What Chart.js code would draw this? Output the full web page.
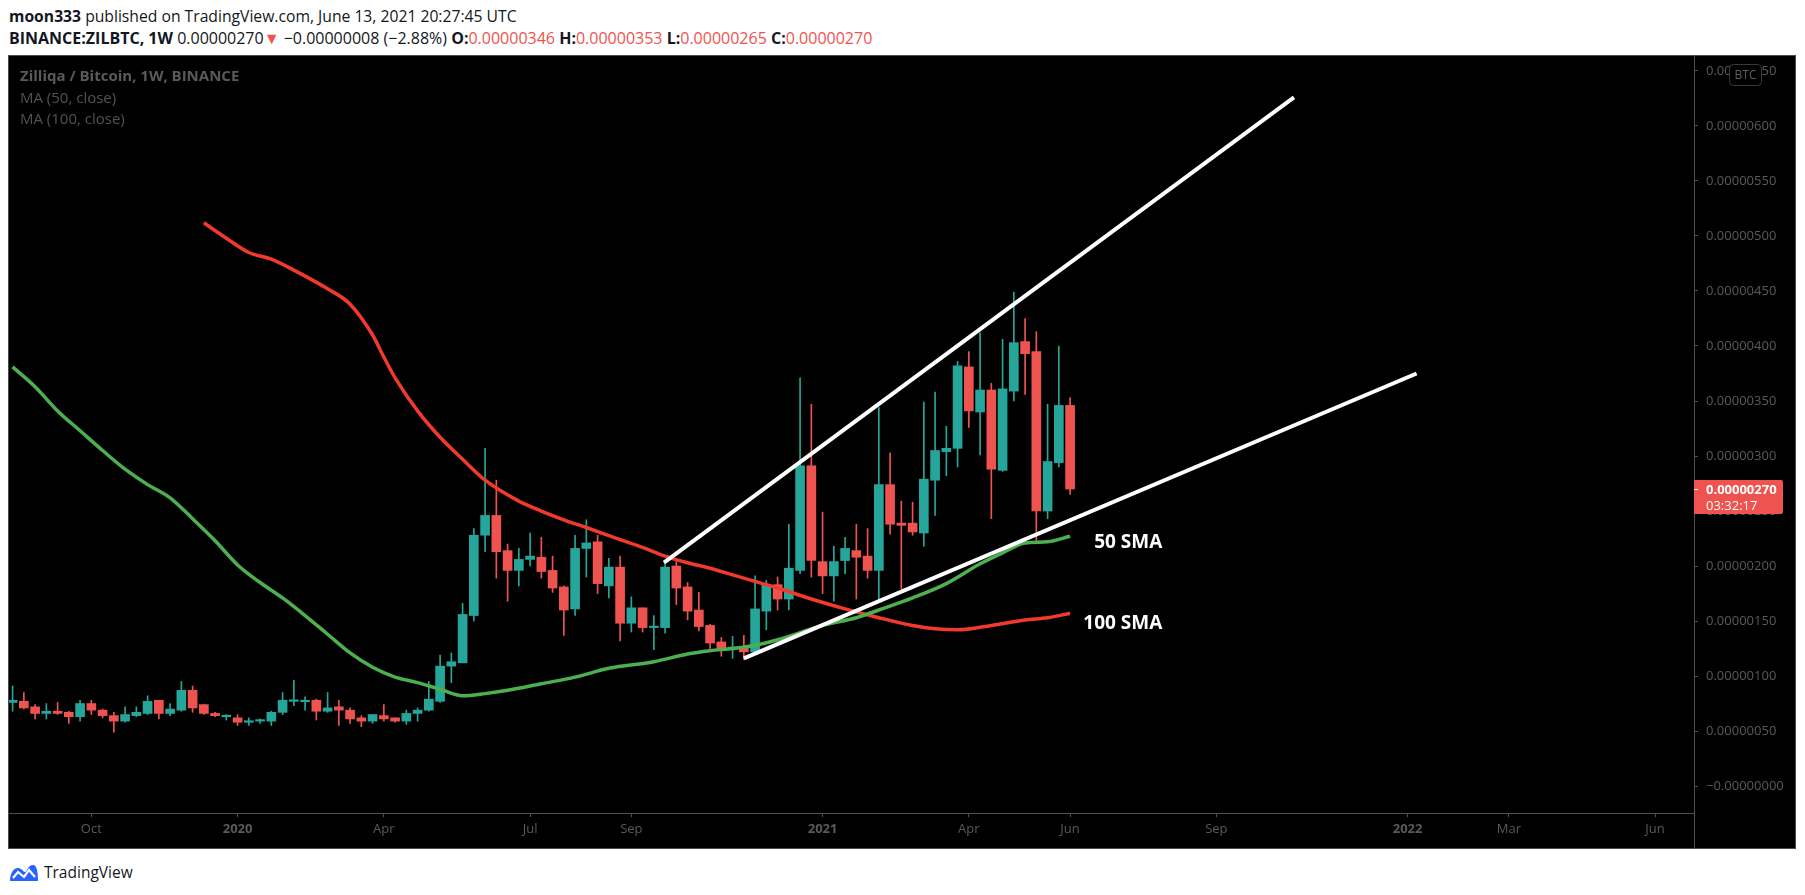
<!DOCTYPE html>
<html>
<head>
<meta charset="utf-8">
<title>Zilliqa / Bitcoin, 1W, BINANCE</title>
<script src="https://cdn.jsdelivr.net/npm/chart.js@4.4.1/dist/chart.umd.min.js"></script>
<style>
  html, body { margin:0; padding:0; background:#fff; }
  body { width:1805px; height:895px; position:relative; overflow:hidden;
         font-family:"Open Sans", sans-serif; color:#131722; }
  .hdr { position:absolute; left:9px; white-space:nowrap; font-size:16px; line-height:20px; }
  #h1 { top:6px; font-size:15.7px; }
  #h2 { top:28px; }
  .b { font-weight:700; }
  .r { color:#ef5350; }
  #box { position:absolute; left:8px; top:55px; width:1786px; height:792px;
         border:1px solid #4a4a4a; background:#000; }
  #box canvas { position:absolute; left:0; top:0; }
  #legend { position:absolute; left:11px; top:9px; font-size:15px; line-height:21.6px; color:#525252; }
  #legend .b { color:#5a5a5a; }
  #logo { position:absolute; left:9px; top:861px; height:22px; display:flex; align-items:center; }
  #logo span { font-size:15.5px; margin-left:5px; color:#131722; }
</style>
</head>
<body>

<div class="hdr" id="h1"><span class="b">moon333</span> published on TradingView.com, June 13, 2021 20:27:45 UTC</div>
<div class="hdr" id="h2"><span class="b">BINANCE:ZILBTC, 1W</span> 0.00000270<span class="r">▼</span> −0.00000008 (−2.88%)
  <span class="b">O:</span><span class="r">0.00000346</span>
  <span class="b">H:</span><span class="r">0.00000353</span>
  <span class="b">L:</span><span class="r">0.00000265</span>
  <span class="b">C:</span><span class="r">0.00000270</span></div>

<div id="box">
  <canvas id="chart" width="1786" height="792"></canvas>
  <div id="legend">
    <div class="b">Zilliqa / Bitcoin, 1W, BINANCE</div>
    <div>MA (50, close)</div>
    <div>MA (100, close)</div>
  </div>
</div>

<div id="logo">
  <svg width="30" height="20" viewBox="0 0 30 20">
    <path d="M1 19 C1 12 4 6 9 6 C13 6 14 10 16 10 C18 10 19 3 24 3 C28 3 29 10 29 19 Z" fill="#2962ff"/>
    <path d="M4 16 L9 10 L15 15 L20 8 L26 15" stroke="#fff" stroke-width="2.2" fill="none"/>
  </svg>
  <span>TradingView</span>
</div>

<script>
/* =========================
   DATA (prices in satoshi, weeks counted from the week of 6 Jan 2020)
========================= */
const weeks = [];
for (let w = -20; w <= 74; w++) weeks.push(w);

const openP = [
  76, 77, 72, 66, 68, 67, 63, 75, 69, 64, 59, 64, 66, 78, 66, 69, 87, 74, 66, 63,
  62, 58, 59, 59, 67, 77, 78, 78, 68, 72, 69, 62, 59, 64, 62, 59, 66, 69, 77, 109,
  112, 155, 228, 246, 214, 196, 206, 208, 196, 181, 161, 216, 222, 182, 199, 148, 162, 144, 144, 200,
  181, 160, 146, 131, 125, 126, 122, 159, 183, 170, 196, 291, 204, 191, 205, 214, 209, 196, 274, 239,
  239, 230, 278, 304, 307, 381, 340, 360, 287, 359, 404, 395, 250, 294, 346
];
const highP = [
  91, 85, 74, 75, 76, 68, 78, 78, 70, 67, 72, 72, 82, 78, 75, 95, 91, 74, 67, 65,
  65, 62, 61, 68, 85, 96, 81, 79, 85, 78, 71, 64, 65, 74, 62, 69, 71, 95, 119, 121,
  166, 234, 307, 278, 220, 216, 230, 226, 209, 182, 228, 242, 228, 207, 209, 172, 162, 155, 204, 204,
  185, 176, 147, 135, 136, 137, 191, 187, 190, 238, 371, 347, 249, 218, 226, 238, 234, 344, 303, 259,
  258, 349, 358, 327, 386, 395, 412, 366, 406, 449, 425, 413, 347, 400, 353
];
const lowP = [
  68, 70, 61, 61, 65, 57, 59, 65, 62, 49, 58, 63, 65, 61, 64, 68, 67, 65, 63, 60,
  55, 55, 57, 55, 65, 73, 69, 60, 67, 55, 57, 54, 57, 59, 58, 56, 59, 68, 76, 94,
  112, 150, 213, 189, 168, 182, 200, 189, 176, 137, 155, 190, 175, 171, 132, 140, 140, 124, 139, 165,
  151, 141, 125, 118, 116, 115, 120, 142, 160, 160, 193, 190, 175, 168, 193, 170, 189, 168, 229, 179,
  228, 218, 246, 282, 290, 326, 301, 243, 286, 350, 356, 221, 243, 290, 265
];
const closeP = [
  78, 71, 66, 68, 66, 63, 75, 69, 64, 59, 65, 67, 77, 66, 70, 87, 71, 66, 64, 64,
  58, 59, 60, 67, 78, 78, 78, 68, 71, 69, 61, 59, 65, 61, 59, 66, 69, 79, 109, 113,
  156, 228, 246, 213, 196, 206, 209, 195, 180, 160, 216, 221, 184, 199, 148, 162, 144, 145, 199, 180,
  159, 145, 130, 124, 126, 122, 161, 183, 170, 198, 291, 205, 191, 204, 216, 208, 196, 274, 238, 237,
  231, 279, 305, 307, 382, 341, 360, 288, 361, 403, 393, 250, 295, 346, 270
];

// moving averages: [week, value]
const ma50 = [
  [-20, 381], [-18, 363], [-16, 341], [-14, 323], [-12, 305], [-10, 288], [-8, 274], [-6, 262],
  [-4, 243], [-2, 223], [0, 201], [2, 185], [4, 171], [6, 155], [8, 138], [10, 121], [12, 108],
  [14, 99], [16, 94], [18, 88], [20, 82], [22, 84], [24, 87], [27, 93], [30, 99], [33, 107],
  [37, 113], [40, 120], [42, 123], [44, 125], [46, 128], [48, 133], [52, 146], [55, 153],
  [57, 160], [60, 171], [63, 184], [66, 202], [68, 212], [70, 221], [72, 222], [74, 227]
];
const ma100 = [
  [-3, 512], [-1, 498], [1, 485], [3, 479], [5, 469], [8, 452], [10, 438], [12, 410], [13, 390],
  [14, 371], [16, 341], [18, 317], [20, 297], [22, 278], [25, 259], [27, 250], [29, 242], [31, 235],
  [34, 224], [36, 217], [38, 209], [40, 203], [42, 198], [44, 192], [46, 186], [48, 180], [51, 170],
  [54, 161], [57, 153], [60, 146], [62, 143], [64, 142], [67, 146], [70, 151], [72, 153], [74, 157]
];

// hand-drawn channel lines: [week, value]
const upperLine = [[37.9, 203], [93.9, 626]];
const lowerLine = [[45.0, 116], [104.8, 375]];

// axis ticks
const priceTicks = [0, 50, 100, 150, 200, 250, 300, 350, 400, 450, 500, 550, 600, 650];
const timeTicks = [-13, 0, 13, 26, 35, 52, 65, 74, 87, 104, 113, 126];
const timeLabels = ['Oct', '2020', 'Apr', 'Jul', 'Sep', '2021', 'Apr', 'Jun', 'Sep', '2022', 'Mar', 'Jun'];

const lastPrice = 270;
const countdown = '03:32:17';

/* =========================
   STYLE
========================= */
const UP = '#26a69a';
const DOWN = '#ef5350';
const AXIS = '#505050';
const TICK_TXT = '#5a5a5a';
const FONT = '"Open Sans", sans-serif';

const smaLabels = [
  { text: '50 SMA', week: 82.2, price: 221 },
  { text: '100 SMA', week: 82.2, price: 148 }
];

const colors = weeks.map((w, i) => closeP[i] >= openP[i] ? UP : DOWN);

/* =========================
   DECORATIONS (labels, badges)
========================= */
const overlay = {
  id: 'overlay',
  afterDraw(chart) {
    const { ctx, chartArea, scales: { x, y } } = chart;
    ctx.save();

    // separator of the two axes
    ctx.strokeStyle = AXIS;
    ctx.lineWidth = 1;
    ctx.beginPath();
    ctx.moveTo(chartArea.right + 0.5, chartArea.bottom);
    ctx.lineTo(chartArea.right + 0.5, chart.height);
    ctx.stroke();

    // 50 / 100 SMA notes
    ctx.fillStyle = '#fff';
    ctx.font = 'bold 19px ' + FONT;
    ctx.textAlign = 'right';
    ctx.textBaseline = 'middle';
    smaLabels.forEach(l => {
      ctx.fillText(l.text, x.getPixelForValue(l.week), y.getPixelForValue(l.price));
    });

    // last price badge
    const py = Math.round(y.getPixelForValue(lastPrice));
    const bx = chartArea.right;
    ctx.fillStyle = DOWN;
    ctx.beginPath();
    ctx.roundRect(bx, py - 9, 89, 34, [0, 2, 2, 0]);
    ctx.fill();
    ctx.strokeStyle = '#fff';
    ctx.beginPath();
    ctx.moveTo(bx, py + 0.5);
    ctx.lineTo(bx + 4, py + 0.5);
    ctx.stroke();
    ctx.fillStyle = '#fff';
    ctx.textAlign = 'left';
    ctx.font = 'bold 13px ' + FONT;
    ctx.fillText((lastPrice / 1e8).toFixed(8), bx + 12, py + 1);
    ctx.font = '13px ' + FONT;
    ctx.fillText(countdown, bx + 12, py + 17);

    // currency badge
    ctx.fillStyle = '#000';
    ctx.strokeStyle = '#3a3a3a';
    ctx.beginPath();
    ctx.roundRect(bx + 35.5, 8.5, 32, 21, 4);
    ctx.fill();
    ctx.stroke();
    ctx.fillStyle = '#5e5e5e';
    ctx.font = '12px ' + FONT;
    ctx.textAlign = 'center';
    ctx.fillText('BTC', bx + 51.5, 19.5);

    ctx.restore();
  }
};

/* =========================
   CHART
========================= */
new Chart(document.getElementById('chart'), {
  type: 'bar',
  data: {
    datasets: [
      {
        type: 'line', data: upperLine.map(p => ({ x: p[0], y: p[1] })),
        borderColor: '#fff', borderWidth: 4, pointRadius: 0, order: 0
      },
      {
        type: 'line', data: lowerLine.map(p => ({ x: p[0], y: p[1] })),
        borderColor: '#fff', borderWidth: 4, pointRadius: 0, order: 0
      },
      {
        type: 'line', data: ma50.map(p => ({ x: p[0], y: p[1] })),
        borderColor: '#4caf50', borderWidth: 3.5, pointRadius: 0,
        cubicInterpolationMode: 'monotone', order: 1
      },
      {
        type: 'line', data: ma100.map(p => ({ x: p[0], y: p[1] })),
        borderColor: '#f23a2c', borderWidth: 3.5, pointRadius: 0,
        cubicInterpolationMode: 'monotone', order: 1
      },
      {
        // candle bodies
        data: weeks.map((w, i) => ({ x: w, y: [openP[i], closeP[i]] })),
        backgroundColor: colors, barThickness: 9, minBarLength: 1.5,
        grouped: false, order: 2
      },
      {
        // candle wicks
        data: weeks.map((w, i) => ({ x: w, y: [lowP[i], highP[i]] })),
        backgroundColor: colors, barThickness: 1,
        grouped: false, order: 3
      }
    ]
  },
  options: {
    responsive: false,
    animation: false,
    devicePixelRatio: 1,
    events: [],
    layout: { padding: 0 },
    plugins: { legend: { display: false }, tooltip: { enabled: false } },
    scales: {
      x: {
        type: 'linear',
        min: -20.32,
        max: 129.46,
        offset: false,
        afterFit: s => { s.height = 35; s.paddingLeft = 0; s.paddingRight = 0; },
        afterBuildTicks: s => { s.ticks = timeTicks.map(v => ({ value: v })); },
        grid: { display: true, drawOnChartArea: false, drawTicks: true, tickLength: 4, color: AXIS, offset: false },
        border: { color: AXIS },
        ticks: {
          autoSkip: false, maxRotation: 0, padding: 4, color: TICK_TXT,
          font: c => ({ family: FONT, size: 13, weight: /^\d{4}$/.test(timeLabels[c.index] || '') ? 'bold' : 'normal' }),
          callback: (v, i) => timeLabels[i]
        }
      },
      y: {
        position: 'right',
        min: -24.5,
        max: 663.6,
        afterFit: s => { s.width = 101; s.paddingTop = 0; s.paddingBottom = 0; },
        afterBuildTicks: s => { s.ticks = priceTicks.map(v => ({ value: v })); },
        grid: { display: true, drawOnChartArea: false, drawTicks: true, tickLength: 4, color: AXIS },
        border: { color: AXIS },
        ticks: {
          padding: 8, color: TICK_TXT, font: { family: FONT, size: 13 },
          callback: v => v === 0 ? '−0.00000000' : (v / 1e8).toFixed(8)
        }
      }
    }
  },
  plugins: [overlay]
});
</script>
</body>
</html>
